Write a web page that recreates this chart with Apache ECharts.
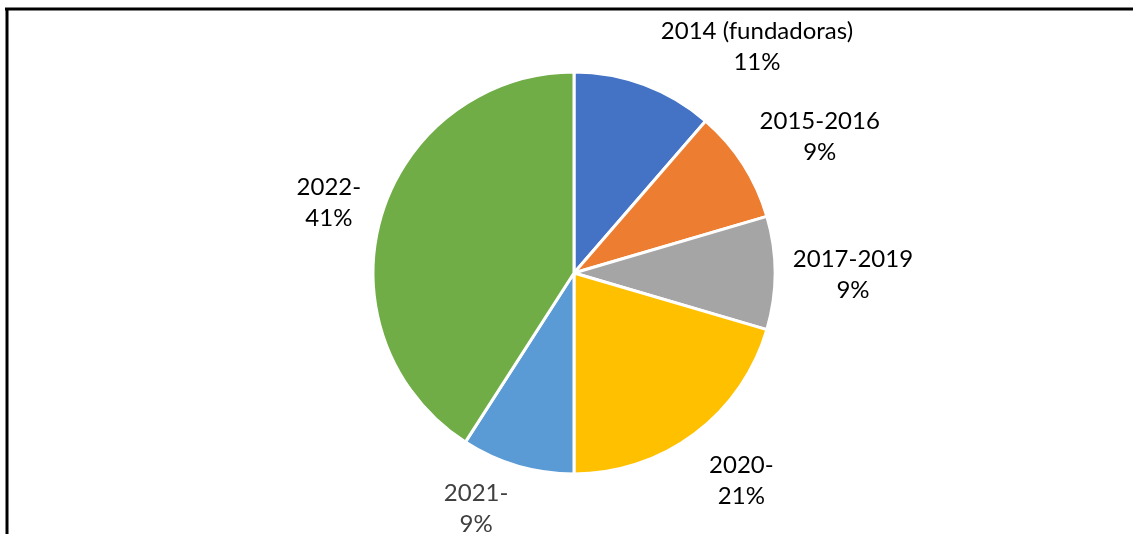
<!DOCTYPE html>
<html>
<head>
<meta charset="utf-8">
<style>
  html, body { margin: 0; padding: 0; background: #ffffff; }
  #chart { width: 1133px; height: 534px; }
</style>
<script src="https://cdn.jsdelivr.net/npm/echarts@6/dist/echarts.min.js"></script>
</head>
<body>
<div id="chart"></div>
<script>
// ---- data ----
const categories = ['2014 (fundadoras)', '2015-2016', '2017-2019', '2020-', '2021-', '2022-'];
const counts = [5, 4, 4, 9, 4, 18];
const percentLabels = ['11%', '9%', '9%', '21%', '9%', '41%'];

// ---- styles / layout ----
const colors = ['#4472C4', '#ED7D31', '#A5A5A5', '#FFC000', '#5B9BD5', '#70AD47'];
const labelColors = ['#000000', '#000000', '#000000', '#000000', '#404040', '#000000'];
const CX = 574, CY = 273, R = 201;
// label placement: [angle nudge (deg), distance from centre (px)]
const labelPlace = [[18.5, 291], [3.7, 281], [0.4, 279], [-2, 267], [6.2, 255], [-0.4, 255]];

const total = counts.reduce((a, b) => a + b, 0);
const midAngles = [];
let acc = 0;
counts.forEach(v => { midAngles.push((acc + v / 2) / total * 360); acc += v; });

const chart = echarts.init(document.getElementById('chart'), null, { renderer: 'canvas' });
chart.setOption({
  backgroundColor: '#ffffff',
  animation: false,
  graphic: [
    { type: 'line', shape: { x1: 5, y1: 9, x2: 1133, y2: 9 }, style: { stroke: '#000', lineWidth: 3 } },
    { type: 'line', shape: { x1: 7, y1: 8, x2: 7, y2: 534 }, style: { stroke: '#000', lineWidth: 3 } }
  ],
  series: [{
    type: 'pie',
    center: [CX, CY],
    radius: [0, R],
    startAngle: 90,
    clockwise: true,
    silent: true,
    data: categories.map((c, i) => ({
      name: c,
      value: counts[i],
      itemStyle: { color: colors[i] },
      label: { color: labelColors[i] }
    })),
    itemStyle: { borderColor: '#ffffff', borderWidth: 3 },
    label: {
      show: true,
      position: 'outside',
      formatter: p => p.name + '\n' + percentLabels[p.dataIndex],
      fontFamily: 'Lato, "Open Sans", sans-serif',
      fontSize: 24,
      lineHeight: 31,
      align: 'center'
    },
    labelLine: { show: false },
    labelLayout: function (params) {
      const i = params.dataIndex;
      const a = (midAngles[i] + labelPlace[i][0]) * Math.PI / 180;
      const d = labelPlace[i][1];
      return {
        x: CX + d * Math.sin(a),
        y: CY - d * Math.cos(a),
        align: 'center',
        verticalAlign: 'middle'
      };
    }
  }]
});
</script>
</body>
</html>
